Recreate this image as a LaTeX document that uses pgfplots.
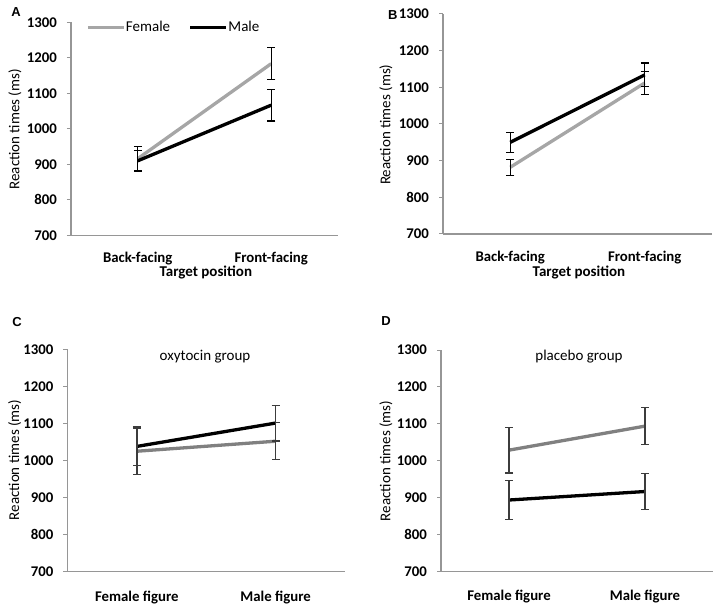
\documentclass[border=0pt]{standalone}
\usepackage{pgfplots}
\pgfplotsset{compat=1.18}
\usepackage{fontspec}
\setmainfont{Carlito}
\newfontfamily\arialfont{Liberation Sans}
\definecolor{lgrey}{RGB}{166,166,166}
\definecolor{mgrey}{RGB}{128,128,128}
\definecolor{axgrey}{RGB}{150,150,150}
\definecolor{ebdark}{RGB}{60,60,60}
\pgfplotsset{
  panel/.style={
    scale only axis, anchor=south west, clip=false,
    xmin=0.5, xmax=2.5, ymin=700, ymax=1300,
    axis x line*=bottom, axis y line*=left,
    axis line style={-, axgrey, line width=1.2pt},
    ytick={700,800,900,1000,1100,1200,1300},
    yticklabels={700,800,900,1000,1100,1200,1300},
    xtick={1,2},
    tick align=outside, major tick length=4pt,
    ytick style={axgrey, line width=1pt},
    xtick style={draw=none},
    tick label style={font=\bfseries\fontsize{14.8}{16}\selectfont, text=black},
    yticklabel style={anchor=east, inner sep=0pt, xshift=-10pt},
    xticklabel style={anchor=base, inner sep=0pt, yshift=-23.7pt},
  },
  fem/.style={line width=3.3pt, error bars/.cd, y dir=both, y explicit,
    error bar style={line width=1.3pt, #1},
    error mark options={rotate=90, line width=1.3pt, mark size=4pt, #1}},
}
\begin{document}
\begin{tikzpicture}[x=1pt,y=1pt]
\path[use as bounding box] (0,0) rectangle (722,604);
% ---------------- A
\begin{axis}[panel, at={(71pt,368.7pt)}, width=267pt, height=212.8pt,
  xticklabels={Back-facing,Front-facing},
  legend style={draw=none, fill=none, at={(rel axis cs:0.056,0.977)}, anchor=west,
    inner sep=0pt, font=\fontsize{15}{18}\selectfont, legend columns=2,
    nodes={inner xsep=0.5pt, inner ysep=0pt},
    /tikz/every even column/.append style={column sep=18pt}},
  legend image code/.code={\draw[#1, line width=3.3pt] (0pt,0pt) -- (36pt,0pt);},
  ]
\addplot[lgrey, fem=black] coordinates {(1,916) +- (0,35) (2,1184) +- (0,45)};
\addlegendentry{Female}
\addplot[black, fem=black] coordinates {(1,910) +- (0,30) (2,1067) +- (0,45)};
\addlegendentry{Male}
\end{axis}
% ---------------- B
\begin{axis}[panel, at={(443pt,370pt)}, width=269pt, height=220pt,
  xticklabels={Back-facing,Front-facing}]
\addplot[lgrey, fem=black] coordinates {(1,882) +- (0,22) (2,1112) +- (0,32)};
\addplot[black, fem=black] coordinates {(1,950) +- (0,27) (2,1134) +- (0,32)};
\end{axis}
% ---------------- C
\begin{axis}[panel, at={(67.5pt,32.3pt)}, width=277.5pt, height=222.4pt,
  xticklabels={Female figure,Male figure},
  xticklabel style={yshift=-1.6pt}]
\addplot[mgrey, fem=ebdark] coordinates {(1,1025) +- (0,63) (2,1052) +- (0,50)};
\addplot[black, fem=ebdark] coordinates {(1,1038) +- (0,52) (2,1101) +- (0,48)};
\end{axis}
% ---------------- D
\begin{axis}[panel, at={(441pt,32.3pt)}, width=272pt, height=221.7pt,
  xticklabels={Female figure,Male figure},
  xticklabel style={yshift=-1.6pt}]
\addplot[mgrey, fem=ebdark] coordinates {(1,1029) +- (0,62) (2,1094) +- (0,50)};
\addplot[black, fem=ebdark] coordinates {(1,894) +- (0,52) (2,917) +- (0,49)};
\end{axis}
% ---------------- texts
\begin{scope}[every node/.style={inner sep=0pt}]
\node[font=\arialfont\bfseries\fontsize{13}{14}\selectfont] at (16,592.3) {A};
\node[font=\arialfont\bfseries\fontsize{13}{14}\selectfont] at (392.7,589) {B};
\node[font=\arialfont\bfseries\fontsize{13}{14}\selectfont] at (17,282.3) {C};
\node[font=\arialfont\bfseries\fontsize{13}{14}\selectfont] at (386,283) {D};
\node[rotate=90, font=\fontsize{15}{18}\selectfont] at (15,474.7) {Reaction times (ms)};
\node[rotate=90, font=\fontsize{15}{18}\selectfont] at (386,479.3) {Reaction times (ms)};
\node[rotate=90, font=\fontsize{15}{18}\selectfont] at (14.7,144) {Reaction times (ms)};
\node[rotate=90, font=\fontsize{15}{18}\selectfont] at (386,143.1) {Reaction times (ms)};
\node[anchor=base, font=\bfseries\fontsize{15}{18}\selectfont] at (205.8,327.3) {Target position};
\node[anchor=base, font=\bfseries\fontsize{15}{18}\selectfont] at (579,327.3) {Target position};
\node[font=\fontsize{15}{18}\selectfont] at (205,247) {oxytocin group};
\node[font=\fontsize{15}{18}\selectfont] at (579,247) {placebo group};
\end{scope}
\end{tikzpicture}
\end{document}
